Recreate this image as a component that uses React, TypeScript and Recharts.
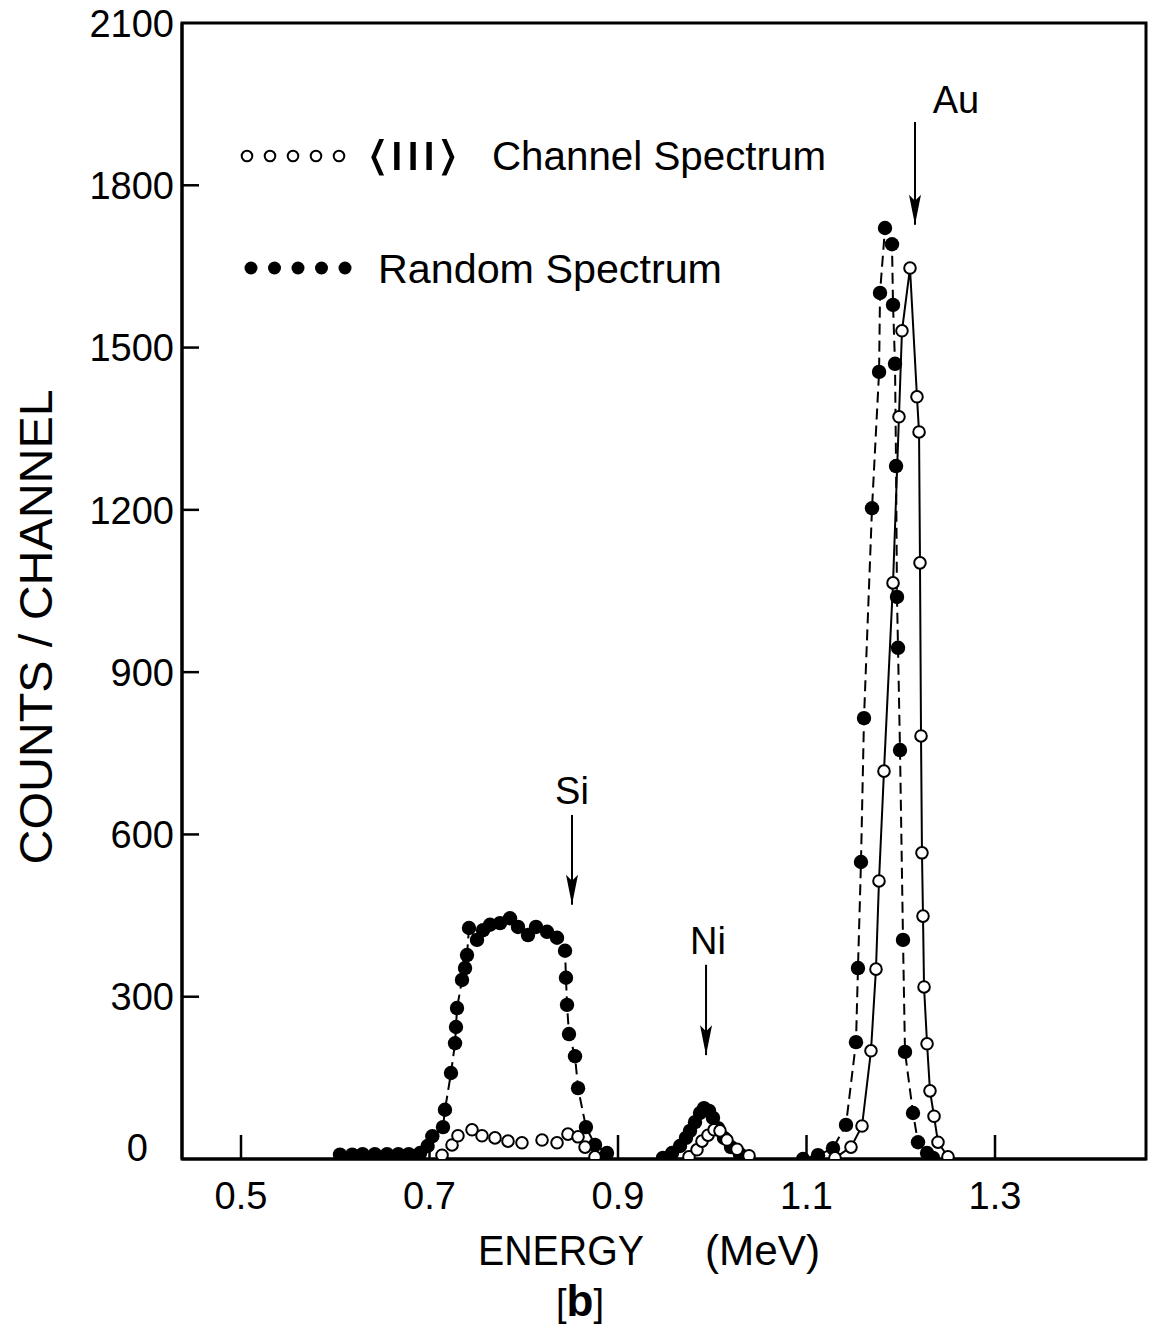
import React from 'react';
import {
  ComposedChart,
  Line,
  Scatter,
  XAxis,
  YAxis,
  ReferenceLine,
  ReferenceDot,
  ReferenceArea,
} from 'recharts';

// ---------- axis ticks ----------
const xTicks = [0.5, 0.7, 0.9, 1.1, 1.3];
const xTickLabels = ['0.5', '0.7', '0.9', '1.1', '1.3'];
const yTicks = [0, 300, 600, 900, 1200, 1500, 1800, 2100];
const yTickLabels = ['0', '300', '600', '900', '1200', '1500', '1800', '2100'];
const xDomain: [number, number] = [0.4374, 1.4602];
const yDomain: [number, number] = [0, 2100];

// ---------- data: [energy (MeV), counts/channel] ----------
const randomSi: [number, number][] = [
  [0.605, 8], [0.618, 8], [0.629, 9], [0.642, 9], [0.655, 9], [0.667, 9], [0.678, 9],
  [0.69, 11], [0.698, 24], [0.703, 42], [0.7143, 59], [0.7164, 91], [0.7228, 159],
  [0.7271, 214], [0.7281, 244], [0.7292, 279], [0.7345, 331], [0.7377, 353], [0.7398, 377],
  [0.7419, 427], [0.7504, 405], [0.7568, 423], [0.7642, 433], [0.7748, 436], [0.7854, 445],
  [0.7939, 429], [0.8045, 414], [0.813, 429], [0.8247, 420], [0.8353, 409], [0.8438, 385],
  [0.8448, 335], [0.8459, 285], [0.848, 231], [0.8544, 190], [0.8576, 131], [0.866, 59],
  [0.8756, 26], [0.8883, 11],
];
const channelSi: [number, number][] = [
  [0.7133, 7], [0.7239, 26], [0.7302, 43], [0.7451, 54], [0.7557, 43], [0.7695, 39],
  [0.7833, 33], [0.7981, 30], [0.8194, 35], [0.8353, 30], [0.8469, 46], [0.8576, 41],
  [0.865, 22], [0.8756, 4],
];
const randomNi: [number, number][] = [
  [0.9477, 2], [0.9573, 11], [0.9658, 24], [0.9721, 39], [0.9764, 52], [0.9817, 68],
  [0.987, 85], [0.9912, 94], [0.9966, 89], [1.0008, 76], [1.0061, 57], [1.0125, 39],
  [1.0199, 22], [1.0294, 9],
];
const channelNi: [number, number][] = [
  [0.9753, 4], [0.9838, 17], [0.9891, 33], [0.9955, 44], [1.0019, 54], [1.0082, 52],
  [1.0156, 35], [1.0263, 18], [1.039, 6],
];
const randomAu: [number, number][] = [
  [1.0963, 0], [1.1122, 7], [1.1281, 20], [1.1419, 63], [1.1525, 216], [1.1546, 353],
  [1.1578, 549], [1.161, 815], [1.1695, 1203], [1.177, 1455], [1.178, 1601], [1.1833, 1721],
  [1.1907, 1691], [1.1918, 1579], [1.1939, 1470], [1.195, 1281], [1.196, 1039], [1.1971, 945],
  [1.1992, 756], [1.2024, 405], [1.2045, 198], [1.213, 85], [1.2183, 31], [1.2279, 11],
  [1.2342, 2],
];
const channelAu: [number, number][] = [
  [1.1302, 2], [1.1472, 22], [1.1589, 61], [1.1684, 200], [1.1737, 351], [1.1769, 514],
  [1.1822, 717], [1.1918, 1065], [1.1981, 1372], [1.2013, 1531], [1.2098, 1647],
  [1.2172, 1409], [1.2194, 1344], [1.2204, 1102], [1.2215, 782], [1.2225, 566],
  [1.2236, 449], [1.2247, 318], [1.2279, 213], [1.231, 126], [1.2353, 79], [1.2395, 31],
  [1.2501, 4],
];

// peak annotations: arrow energy, arrow top/tip counts, label position
const annotations = [
  { name: 'Au', arrowE: 1.2151, fromC: 1917, toC: 1727, labelE: 1.2586, labelC: 1958 },
  { name: 'Si', arrowE: 0.8512, fromC: 636, toC: 470, labelE: 0.8512, labelC: 682 },
  { name: 'Ni', arrowE: 0.9934, fromC: 359, toC: 192, labelE: 0.9955, labelC: 405 },
];

const legendChannel = 'Channel Spectrum';
const legendRandom = 'Random Spectrum';
const legendOrientation = '⟨III⟩';
const xTitleA = 'ENERGY';
const xTitleB = '(MeV)';
const yTitle = 'COUNTS / CHANNEL';

const FONT = '"Liberation Sans", Arial, Helvetica, sans-serif';

const pts = (arr: [number, number][]) => arr.map(([e, c]) => ({ e, c }));

const FilledDot = (p: any) => <circle cx={p.cx} cy={p.cy} r={7.2} fill="#000" />;
const OpenDot = (p: any) => (
  <circle cx={p.cx} cy={p.cy} r={5.8} fill="#fff" stroke="#000" strokeWidth={2} />
);

const XTick = (props: any) => {
  const { x, y, index } = props;
  return (
    <g>
      <line x1={x} y1={y} x2={x} y2={y - 24} stroke="#000" strokeWidth={2.5} />
      <text x={x} y={y + 50} textAnchor="middle" fontSize={38} fontFamily={FONT} fill="#000">
        {xTickLabels[index]}
      </text>
    </g>
  );
};

const YTick = (props: any) => {
  const { x, y, index, payload } = props;
  const v = payload.value;
  const showLine = v !== 0 && v !== 2100;
  const isZero = v === 0;
  return (
    <g>
      {showLine && <line x1={x} y1={y} x2={x + 17} y2={y} stroke="#000" strokeWidth={2.5} />}
      <text
        x={x - 8 - (isZero ? 26 : 0)}
        y={y - (isZero ? 12 : 0)}
        dy="0.36em"
        textAnchor="end"
        fontSize={38}
        fontFamily={FONT}
        fill="#000"
      >
        {yTickLabels[index]}
      </text>
    </g>
  );
};

const ArrowHead = (p: any) => (
  <polygon
    points={`${p.cx},${p.cy} ${p.cx - 6},${p.cy - 30} ${p.cx},${p.cy - 24} ${p.cx + 6},${p.cy - 30}`}
    fill="#000"
  />
);

const makeLabel = (text: string) => (p: any) => (
  <text
    x={p.cx}
    y={p.cy}
    dy="0.36em"
    textAnchor="middle"
    fontSize={38}
    fontFamily={FONT}
    fill="#000"
  >
    {text}
  </text>
);

export default function App() {
  return (
    <div style={{ position: 'absolute', left: 0, top: 0, width: 1149, height: 1333, background: '#fff' }}>
      <ComposedChart width={1149} height={1333} margin={{ top: 23, right: 3, bottom: 0, left: 0 }}>
        <XAxis
          type="number"
          dataKey="e"
          domain={xDomain}
          ticks={xTicks}
          interval={0}
          allowDataOverflow
          height={174}
          tickLine={false}
          tickSize={0}
          tickMargin={0}
          tick={XTick}
          axisLine={{ stroke: '#000', strokeWidth: 3 }}
        />
        <YAxis
          type="number"
          dataKey="c"
          domain={yDomain}
          ticks={yTicks}
          interval={0}
          allowDataOverflow
          width={182}
          tickLine={false}
          tickSize={0}
          tickMargin={0}
          tick={YTick}
          axisLine={{ stroke: '#000', strokeWidth: 3 }}
        />
        <ReferenceArea
          x1={xDomain[0]}
          x2={xDomain[1]}
          y1={yDomain[0]}
          y2={yDomain[1]}
          fill="none"
          fillOpacity={0}
          stroke="#000"
          strokeWidth={3}
        />

        {annotations.map((a) => (
          <ReferenceLine
            key={'l' + a.name}
            segment={[{ x: a.arrowE, y: a.fromC }, { x: a.arrowE, y: a.toC }]}
            stroke="#000"
            strokeWidth={2}
          />
        ))}
        {annotations.map((a) => (
          <ReferenceDot key={'h' + a.name} x={a.arrowE} y={a.toC} r={1} shape={ArrowHead} />
        ))}
        {annotations.map((a) => (
          <ReferenceDot key={'t' + a.name} x={a.labelE} y={a.labelC} r={1} shape={makeLabel(a.name)} />
        ))}

        <Line data={pts(randomSi)} dataKey="c" stroke="#000" strokeWidth={2} strokeDasharray="11 6" dot={false} activeDot={false} isAnimationActive={false} />
        <Line data={pts(randomAu)} dataKey="c" stroke="#000" strokeWidth={2} strokeDasharray="11 6" dot={false} activeDot={false} isAnimationActive={false} />
        <Scatter data={pts(randomSi)} dataKey="c" shape={FilledDot} isAnimationActive={false} />
        <Scatter data={pts(randomNi)} dataKey="c" shape={FilledDot} isAnimationActive={false} />
        <Scatter data={pts(randomAu)} dataKey="c" shape={FilledDot} isAnimationActive={false} />
        <Line data={pts(channelAu)} dataKey="c" stroke="#000" strokeWidth={2} dot={false} activeDot={false} isAnimationActive={false} />
        <Scatter data={pts(channelSi)} dataKey="c" shape={OpenDot} isAnimationActive={false} />
        <Scatter data={pts(channelNi)} dataKey="c" shape={OpenDot} isAnimationActive={false} />
        <Scatter data={pts(channelAu)} dataKey="c" shape={OpenDot} isAnimationActive={false} />
      </ComposedChart>

      <svg
        width={1149}
        height={1333}
        style={{ position: 'absolute', left: 0, top: 0, pointerEvents: 'none' }}
      >
        {/* legend */}
        {[0, 1, 2, 3, 4].map((i) => (
          <circle key={'lo' + i} cx={247 + 23 * i} cy={156} r={5.3} fill="#fff" stroke="#000" strokeWidth={2} />
        ))}
        <text x={366} y={170} fontSize={41} fontFamily={FONT} fill="#000" textLength={94} lengthAdjust="spacingAndGlyphs">
          {legendOrientation}
        </text>
        <text x={492} y={170} fontSize={41} fontFamily={FONT} fill="#000" textLength={334} lengthAdjust="spacingAndGlyphs">
          {legendChannel}
        </text>
        {[0, 1, 2, 3, 4].map((i) => (
          <circle key={'lf' + i} cx={251 + 23.5 * i} cy={268} r={6.5} fill="#000" />
        ))}
        <text x={378} y={283} fontSize={41} fontFamily={FONT} fill="#000" textLength={344} lengthAdjust="spacingAndGlyphs">
          {legendRandom}
        </text>

        {/* axis titles */}
        <text
          x={35}
          y={627}
          transform="rotate(-90 35 627)"
          textAnchor="middle"
          dy="0.36em"
          fontSize={46}
          fontFamily={FONT}
          fill="#000"
          textLength={475}
          lengthAdjust="spacingAndGlyphs"
        >
          {yTitle}
        </text>
        <text x={478} y={1265} fontSize={42} fontFamily={FONT} fill="#000" textLength={166} lengthAdjust="spacingAndGlyphs">
          {xTitleA}
        </text>
        <text x={705} y={1265} fontSize={42} fontFamily={FONT} fill="#000" textLength={115} lengthAdjust="spacingAndGlyphs">
          {xTitleB}
        </text>
        <text x={580} y={1316} textAnchor="middle" fontSize={38} fontFamily={FONT} fill="#000">
          <tspan>[</tspan>
          <tspan fontWeight="bold" fontSize={44}>b</tspan>
          <tspan>]</tspan>
        </text>
      </svg>
    </div>
  );
}
